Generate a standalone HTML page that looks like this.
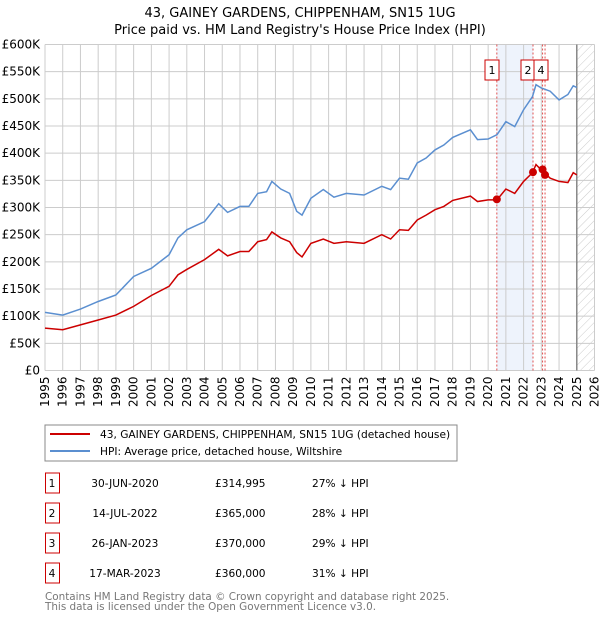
<!DOCTYPE html>
<html><head><meta charset="utf-8"><style>
body{margin:0;background:#fff;font-family:"Liberation Sans","DejaVu Sans",sans-serif;}
svg text{font-family:"DejaVu Sans","Liberation Sans",sans-serif;}
</style></head><body>
<svg id="c" width="600" height="620" xmlns="http://www.w3.org/2000/svg">
<defs><pattern id="hatch" width="6" height="6" patternUnits="userSpaceOnUse" patternTransform="rotate(45)"><line x1="0" y1="0" x2="0" y2="6" stroke="#ccc" stroke-width="1"/></pattern></defs>
<text x="300" y="17" text-anchor="middle" font-size="13">43, GAINEY GARDENS, CHIPPENHAM, SN15 1UG</text>
<text x="300" y="34" text-anchor="middle" font-size="13">Price paid vs. HM Land Registry's House Price Index (HPI)</text>
<g id="plot"></g>
<rect x="45" y="425" width="412" height="36" fill="#fff" stroke="#888"/>
<line x1="50" y1="434" x2="90" y2="434" stroke="#cc0000" stroke-width="2"/>
<text x="100" y="438" font-size="10.6">43, GAINEY GARDENS, CHIPPENHAM, SN15 1UG (detached house)</text>
<line x1="50" y1="451" x2="90" y2="451" stroke="#5b8fd0" stroke-width="2"/>
<text x="100" y="455" font-size="10.6">HPI: Average price, detached house, Wiltshire</text>
<g id="table" font-size="10.6"></g>
<text x="45" y="600" font-size="10.4" fill="#777">Contains HM Land Registry data © Crown copyright and database right 2025.</text>
<text x="45" y="610" font-size="10.4" fill="#777">This data is licensed under the Open Government Licence v3.0.</text>
</svg>
<script>
const hpiYears=[1995,1996,1997,1998,1999,2000,2001,2002,2002.5,2003,2004,2004.8,2005.3,2006,2006.5,2007,2007.5,2007.8,2008.3,2008.8,2009.2,2009.5,2010,2010.7,2011.3,2012,2013,2014,2014.5,2015,2015.5,2016,2016.5,2017,2017.5,2018,2019,2019.4,2020,2020.5,2021,2021.5,2022,2022.5,2022.7,2023,2023.5,2024,2024.5,2024.8,2025];
const hpiValues=[107,102,113,127,139,173,188,213,244,259,274,307,291,302,302,326,329,348,334,326,293,286,317,333,319,326,323,339,333,354,352,382,391,406,415,429,443,425,426,434,458,449,480,504,526,520,514,498,508,524,521];
const priceYears=hpiYears;
const priceValues=[78,75,84,93,102,118,138,155,176,186,204,223,211,219,219,237,241,255,244,237,217,209,234,242,234,237,234,250,242,259,258,277,286,296,302,313,321,311,314,314,334,326,348,364,379,369,354,348,346,364,360];
const saleLabels=["1","2","3","4"];
const saleDates=["30-JUN-2020","14-JUL-2022","26-JAN-2023","17-MAR-2023"];
const saleYears=[2020.49,2022.53,2023.07,2023.21];
const salePrices=[314995,365000,370000,360000];
const salePriceText=["£314,995","£365,000","£370,000","£360,000"];
const saleDiff=["27% ↓ HPI","28% ↓ HPI","29% ↓ HPI","31% ↓ HPI"];
const yTicks=[0,50,100,150,200,250,300,350,400,450,500,550,600];
const yTickLabels=["£0","£50K","£100K","£150K","£200K","£250K","£300K","£350K","£400K","£450K","£500K","£550K","£600K"];
const xTicks=[1995,1996,1997,1998,1999,2000,2001,2002,2003,2004,2005,2006,2007,2008,2009,2010,2011,2012,2013,2014,2015,2016,2017,2018,2019,2020,2021,2022,2023,2024,2025,2026];

const X0=45,X1=594.5,Y0=370.5,Y1=44.5;
const x=y=>X0+(y-1995)/31*(X1-X0);
const yv=v=>Y0-v/600*(Y0-Y1);
const NS="http://www.w3.org/2000/svg";
const plot=document.getElementById('plot');
function mk(tag,attrs,parent){const e=document.createElementNS(NS,tag);for(const k in attrs)e.setAttribute(k,attrs[k]);(parent||plot).appendChild(e);return e;}
let sh=mk('rect',{x:x(saleYears[0]),y:Y1,width:x(saleYears[1])-x(saleYears[0]),height:Y0-Y1,fill:'#eef3fc'});


let hz=mk('rect',{x:x(2025),y:Y1,width:X1-x(2025),height:Y0-Y1,fill:'url(#hatch)'});


yTicks.forEach((t,i)=>{
 let l=mk('line',{x1:X0,x2:X1,y1:yv(t),y2:yv(t),stroke:'#ccc'});
 
 
 let tx=mk('text',{x:40,y:yv(t)+4,'text-anchor':'end','font-size':'12'});tx.textContent=yTickLabels[i];
 
 
});
xTicks.forEach(t=>{
 let l=mk('line',{x1:x(t),x2:x(t),y1:Y1,y2:Y0,stroke:'#ccc'});
 
 
 let tx=mk('text',{x:0,y:0,'font-size':'12','text-anchor':'end',transform:`translate(${x(t)+4},${Y0+6}) rotate(-90)`});tx.textContent=t;
 
 
});
let nl=mk('line',{x1:x(2025),x2:x(2025),y1:Y1,y2:Y0,stroke:'#888','stroke-width':1.5});


saleYears.forEach(s=>{
 let l=mk('line',{x1:x(s),x2:x(s),y1:Y1,y2:Y0,stroke:'#e05050','stroke-dasharray':'2,2'});
 
 
});
let hp=mk('polyline',{points:hpiYears.map((yr,i)=>x(yr)+','+yv(hpiValues[i])).join(' '),fill:'none',stroke:'#5b8fd0','stroke-width':1.5});


let pp=mk('polyline',{points:priceYears.map((yr,i)=>x(yr)+','+yv(priceValues[i])).join(' '),fill:'none',stroke:'#cc0000','stroke-width':1.5});


saleYears.forEach((s,i)=>{
 let c=mk('circle',{cx:x(s),cy:yv(salePrices[i]/1000),r:4,fill:'#cc0000'});
 
 
});
const boxX=[492,528,541,541];
[0,1,3].forEach(i=>{
 let r=mk('rect',{x:boxX[i]-7,y:60,width:14,height:20,fill:'#fff',stroke:'#cc0000'});
 
 
 let t=mk('text',{x:boxX[i],y:74,'text-anchor':'middle','font-size':'11'});t.textContent=saleLabels[i];
 
 
});
const tb=document.getElementById('table');
saleLabels.forEach((lab,i)=>{
 const yy=473+i*30;
 let r=mk('rect',{x:45.5,y:yy,width:14,height:20,fill:'none',stroke:'#cc0000'},tb);
 
 
 const vals=[[52,lab,'middle'],[125,saleDates[i],'middle'],[215,salePriceText[i],'start'],[312,saleDiff[i],'start']];
 vals.forEach(v=>{let t=mk('text',{x:v[0],y:yy+14,'text-anchor':v[2]},tb);t.textContent=v[1];
 
 });
});
</script>
</body></html>
